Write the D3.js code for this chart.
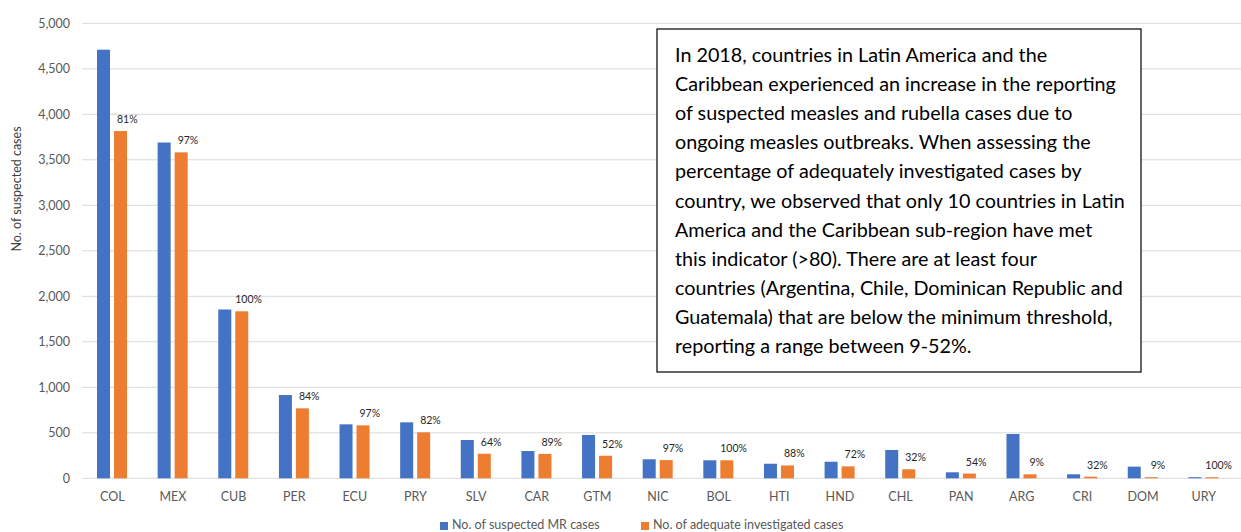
<!DOCTYPE html>
<html>
<head>
<meta charset="utf-8">
<script src="https://cdn.jsdelivr.net/npm/d3@7"></script>
<style>
  html, body { margin: 0; padding: 0; background: #fff; }
  svg { display: block; font-family: Lato, "Open Sans", sans-serif; }
</style>
</head>
<body>
<svg id="chart" width="1241" height="532"></svg>
<script>
const countries = ["COL","MEX","CUB","PER","ECU","PRY","SLV","CAR","GTM","NIC","BOL","HTI","HND","CHL","PAN","ARG","CRI","DOM","URY"];
const suspected = [4710, 3690, 1855, 915, 593, 615, 421, 300, 476, 209, 198, 160, 182, 311, 66, 487, 44, 128, 12];
const adequate  = [3816, 3582, 1835, 769, 582, 505, 270, 268, 248, 200, 198, 141, 131, 99, 52, 44, 18, 12, 12];
const pctLabels = ["81%","97%","100%","84%","97%","82%","64%","89%","52%","97%","100%","88%","72%","32%","54%","9%","32%","9%","100%"];
const yTicks = [0, 500, 1000, 1500, 2000, 2500, 3000, 3500, 4000, 4500, 5000];
const seriesNames = ["No. of suspected MR cases", "No. of adequate investigated cases"];
const noteLines = [
  "In 2018, countries in Latin America and the",
  "Caribbean experienced an increase in the reporting",
  "of suspected measles and rubella cases due to",
  "ongoing measles outbreaks. When assessing the",
  "percentage of adequately investigated cases by",
  "country, we observed that only 10 countries in Latin",
  "America and the Caribbean sub-region have met",
  "this indicator (>80). There are at least four",
  "countries (Argentina, Chile, Dominican Republic and",
  "Guatemala) that are below the minimum threshold,",
  "reporting a range between 9-52%."
];
const yTitle = "No. of suspected cases";

const colors = ["#4472C4", "#ED7D31"];
const svg = d3.select("#chart");

const mLeft = 82, mRight = 1234, mTop = 23.3, mBottom = 478.3;
const x = d3.scaleBand().domain(countries).range([mLeft, mRight]).padding(0);
const y = d3.scaleLinear().domain([0, 5000]).range([mBottom, mTop]);
const bw = x.bandwidth();
const inner = d3.scaleBand().domain([0, 1])
  .range([bw * 15 / 60.6, bw * 45 / 60.6]).paddingInner(0.235).paddingOuter(0);

// gridlines
svg.append("g").selectAll("line").data(yTicks).join("line")
  .attr("x1", mLeft).attr("x2", 1241)
  .attr("y1", d => y(d)).attr("y2", d => y(d))
  .attr("stroke", "#d9d9d9").attr("stroke-width", 1);

// y axis
const yAxis = d3.axisLeft(y).tickValues(yTicks).tickFormat(d3.format(",")).tickSize(0).tickPadding(12);
const yg = svg.append("g").attr("transform", `translate(${mLeft},0)`).call(yAxis);
yg.select(".domain").remove();
yg.selectAll("text").attr("fill", "#595959").style("font-size", "12.5px").style("font-family", "Lato, sans-serif");

// x axis
const xAxis = d3.axisBottom(x).tickSize(0).tickPadding(14);
const xg = svg.append("g").attr("transform", `translate(0,${mBottom})`).call(xAxis);
xg.select(".domain").remove();
xg.selectAll("text").attr("fill", "#595959").style("font-size", "12.5px").style("font-family", "Lato, sans-serif");

// bars
const series = [suspected, adequate];
series.forEach((vals, si) => {
  svg.append("g").selectAll("rect").data(countries).join("rect")
    .attr("x", (c) => x(c) + inner(si))
    .attr("width", inner.bandwidth())
    .attr("y", (c, i) => y(vals[i]))
    .attr("height", (c, i) => y(0) - y(vals[i]))
    .attr("fill", colors[si]);
});

// percentage labels
svg.append("g").selectAll("text").data(countries).join("text")
  .attr("x", c => x(c) + bw / 2 + 15)
  .attr("y", (c, i) => y(adequate[i]) - 8)
  .attr("text-anchor", "middle")
  .attr("fill", "#262626")
  .style("font-size", "10.5px")
  .text((c, i) => pctLabels[i]);

// y title
svg.append("text")
  .attr("transform", "translate(21,189) rotate(-90)")
  .attr("text-anchor", "middle")
  .attr("fill", "#404040")
  .style("font-size", "12.5px")
  .text(yTitle);

// legend
const legend = svg.append("g");
const legX = [440, 641];
seriesNames.forEach((n, i) => {
  legend.append("rect").attr("x", legX[i]).attr("y", 522).attr("width", 8).attr("height", 8).attr("fill", colors[i]);
  legend.append("text").attr("x", legX[i] + 12).attr("y", 529)
    .attr("fill", "#595959").style("font-size", "12.5px").text(n);
});

// note box
const box = svg.append("g");
box.append("rect").attr("x", 657).attr("y", 29).attr("width", 484).attr("height", 343)
  .attr("fill", "#fff").attr("stroke", "#000").attr("stroke-width", 1.2);
const nt = box.append("g");
const texts = nt.selectAll("text").data(noteLines).join("text")
  .attr("x", 0).attr("y", 0)
  .attr("fill", "#000")
  .style("font-size", "20px")
  .text(d => d);
// fit font so line 2 matches reference width (~441px), then stretch vertically to cap height ~14px
const w = texts.nodes()[1].getComputedTextLength();
const fs = 20 * 441 / w;
const k = 14 / (0.72 * fs);
texts.style("font-size", fs + "px")
  .attr("transform", (d, i) => `translate(675,${62 + i * 29.1}) scale(1,${k})`);
</script>
</body>
</html>
